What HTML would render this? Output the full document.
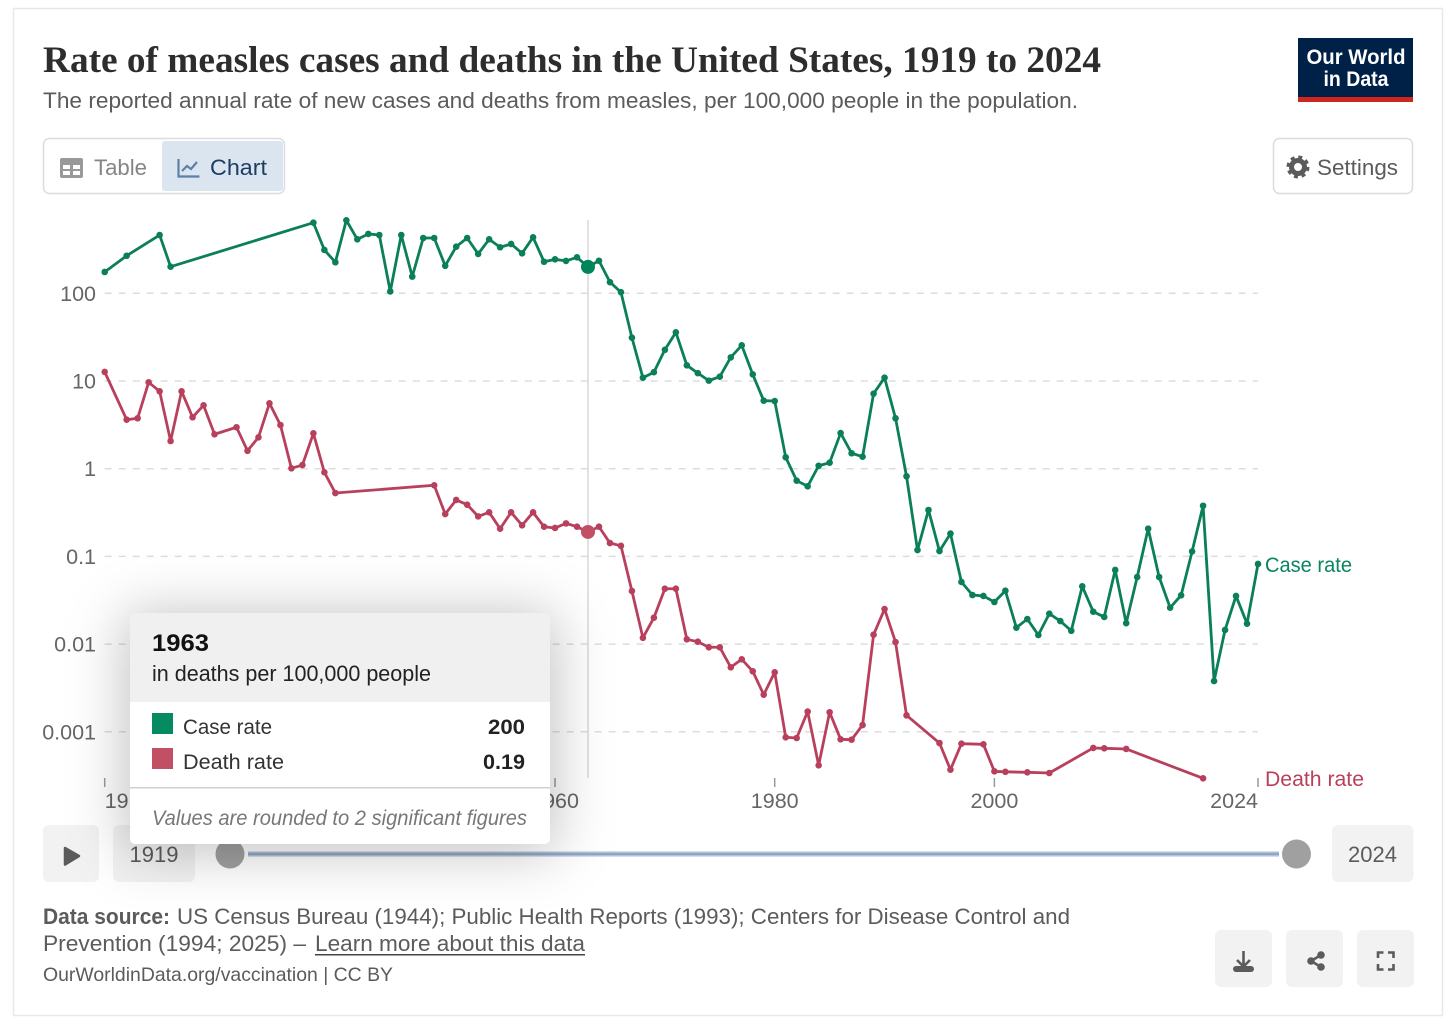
<!DOCTYPE html>
<html lang="en">
<head>
<meta charset="utf-8">
<title>Rate of measles cases and deaths in the United States, 1919 to 2024</title>
<style>
html,body{margin:0;padding:0;background:#fff;width:1456px;height:1034px;overflow:hidden}
svg{display:block;font-family:"Liberation Sans",sans-serif}
</style>
</head>
<body>
<svg id="chart" xmlns="http://www.w3.org/2000/svg" width="1456" height="1034" viewBox="0 0 1456 1034">
  <defs>
    <filter id="tipShadow" x="-40%" y="-60%" width="180%" height="220%">
      <feGaussianBlur stdDeviation="28"/>
    </filter>
  </defs>
  <rect x="13.5" y="8.5" width="1429" height="1007" fill="#fff" stroke="#e8e8e8" stroke-width="1.5"/>

  <text x="43" y="72" font-family="'Liberation Serif',serif" font-weight="700" font-size="36.5" fill="#2d2d2d" textLength="1058" lengthAdjust="spacingAndGlyphs">Rate of measles cases and deaths in the United States, 1919 to 2024</text>
  <text x="43" y="108" font-size="22" fill="#5b5b5b" textLength="1035" lengthAdjust="spacingAndGlyphs">The reported annual rate of new cases and deaths from measles, per 100,000 people in the population.</text>

  <g>
    <rect x="1298" y="38" width="115" height="64" fill="#002147"/>
    <rect x="1298" y="97" width="115" height="5" fill="#ce261e"/>
    <text x="1356" y="64" text-anchor="middle" font-size="21" font-weight="700" fill="#fff" textLength="99" lengthAdjust="spacingAndGlyphs">Our World</text>
    <text x="1356" y="86" text-anchor="middle" font-size="21" font-weight="700" fill="#fff" textLength="65" lengthAdjust="spacingAndGlyphs">in Data</text>
  </g>

  <g>
    <rect x="43.5" y="138.5" width="241" height="55" rx="6" fill="#fff" stroke="#dcdcdc" stroke-width="1.5"/>
    <g>
      <path fill="#999" fill-rule="evenodd" d="M62 158h19a2 2 0 0 1 2 2v16a2 2 0 0 1-2 2H62a2 2 0 0 1-2-2v-16a2 2 0 0 1 2-2zm1 7v4h7v-4zm10 0v4h7v-4zm-10 6v4h7v-4zm10 0v4h7v-4z"/>
      <text x="94" y="175" font-size="22.5" fill="#858585" textLength="53" lengthAdjust="spacingAndGlyphs">Table</text>
    </g>
    <g>
      <rect x="162" y="141" width="121" height="50" rx="3" fill="#dbe5f0"/>
      <path d="M178.500 159v17.500h21M182 171l5-5 4 3 6-7" fill="none" stroke="#5f7fa6" stroke-width="2.200"/>
      <text x="210" y="175" font-size="22.5" fill="#1d3d63" textLength="57" lengthAdjust="spacingAndGlyphs">Chart</text>
    </g>
  </g>

  <g>
    <rect x="1273.500" y="138.500" width="139" height="55" rx="6" fill="#fff" stroke="#dcdcdc" stroke-width="1.500"/>
    <circle cx="1298" cy="167" r="6.500" fill="none" stroke="#5b5b5b" stroke-width="5"/>
    <circle cx="1298" cy="167" r="10" fill="none" stroke="#5b5b5b" stroke-width="3" stroke-dasharray="4 3.850"/>
    <text x="1317" y="175" font-size="22.500" fill="#5b5b5b" textLength="81" lengthAdjust="spacingAndGlyphs">Settings</text>
  </g>

  <g id="plot"></g>

  <text x="1265" y="572" font-size="21.500" fill="#0a8560" textLength="87" lengthAdjust="spacingAndGlyphs">Case rate</text>
  <text x="1265" y="786" font-size="21.500" fill="#b8405a" textLength="99" lengthAdjust="spacingAndGlyphs">Death rate</text>

  <g>
    <g>
      <rect x="43" y="825" width="56" height="57" rx="6" fill="#f2f2f2"/>
      <path d="M65 848l14 8-14 8.500z" fill="#5b5b5b" stroke="#5b5b5b" stroke-width="2.500" stroke-linejoin="round"/>
    </g>
    <g>
      <rect x="113" y="825" width="82" height="57" rx="6" fill="#f2f2f2"/>
      <text x="154" y="862" text-anchor="middle" font-size="22" fill="#5b5b5b">1919</text>
    </g>
    <rect x="248" y="851" width="1031" height="6" fill="#d5deea"/>
    <rect x="248" y="852.500" width="1031" height="3" fill="#8fa6c4"/>
    <circle cx="230" cy="854" r="14.500" fill="#a0a0a0"/>
    <circle cx="1296.500" cy="854" r="14.500" fill="#a0a0a0"/>
    <g>
      <rect x="1332" y="825" width="81.500" height="57" rx="6" fill="#f2f2f2"/>
      <text x="1372.500" y="862" text-anchor="middle" font-size="22" fill="#5b5b5b">2024</text>
    </g>
  </g>

  <g>
    <text x="43" y="924" font-size="22" font-weight="700" fill="#5b5b5b" textLength="127" lengthAdjust="spacingAndGlyphs">Data source:</text>
    <text x="177" y="924" font-size="22" fill="#5b5b5b" textLength="893" lengthAdjust="spacingAndGlyphs">US Census Bureau (1944); Public Health Reports (1993); Centers for Disease Control and</text>
    <text x="43" y="951" font-size="22" fill="#5b5b5b" textLength="263" lengthAdjust="spacingAndGlyphs">Prevention (1994; 2025) –</text>
    <text x="315" y="951" font-size="22" fill="#5b5b5b" textLength="270" lengthAdjust="spacingAndGlyphs">Learn more about this data</text>
    <rect x="315" y="954" width="270" height="1.500" fill="#444"/>
    <text x="43" y="981" font-size="19.500" fill="#5b5b5b" textLength="350" lengthAdjust="spacingAndGlyphs">OurWorldinData.org/vaccination | CC BY</text>
  </g>

  <g>
    <rect x="1215" y="930" width="57" height="57" rx="6" fill="#f2f2f2"/>
    <path d="M1243.500 951v15M1237 960l6.500 6.500 6.500-6.500" fill="none" stroke="#5b5b5b" stroke-width="2.600"/>
    <rect x="1233" y="966" width="21" height="6" rx="3" fill="#5b5b5b"/>
  </g>
  <g>
    <rect x="1286" y="930" width="57" height="57" rx="6" fill="#f2f2f2"/>
    <path d="M1321 955l-10 6 10 6" fill="none" stroke="#5b5b5b" stroke-width="2.600"/>
    <circle cx="1321" cy="955" r="3.800" fill="#5b5b5b"/>
    <circle cx="1311" cy="961" r="3.800" fill="#5b5b5b"/>
    <circle cx="1321" cy="967" r="3.800" fill="#5b5b5b"/>
  </g>
  <g>
    <rect x="1357" y="930" width="57" height="57" rx="6" fill="#f2f2f2"/>
    <path d="M1378 958v-5.500h5.500M1388 952.500h5.500v5.500M1393.500 964v5.500H1388M1383.500 969.500H1378V964" fill="none" stroke="#5b5b5b" stroke-width="2.600"/>
  </g>

  <g>
    <rect x="125" y="613" width="430" height="240" fill="#000" fill-opacity="0.24" filter="url(#tipShadow)"/>
    <rect x="130" y="613" width="420" height="231" rx="5" fill="#fff"/>
    <path d="M130 702v-84a5 5 0 0 1 5-5h410a5 5 0 0 1 5 5v84z" fill="#f0f0f0"/>
    <text x="152" y="651" font-size="24" font-weight="700" fill="#111" textLength="57" lengthAdjust="spacingAndGlyphs">1963</text>
    <text x="152" y="681" font-size="22" fill="#222" textLength="279" lengthAdjust="spacingAndGlyphs">in deaths per 100,000 people</text>
    <rect x="152" y="713" width="21" height="21" fill="#068a62"/>
    <text x="183" y="734" font-size="21.500" fill="#333" textLength="89" lengthAdjust="spacingAndGlyphs">Case rate</text>
    <text x="525" y="734" text-anchor="end" font-size="21.500" font-weight="700" fill="#222" textLength="37" lengthAdjust="spacingAndGlyphs">200</text>
    <rect x="152" y="748" width="21" height="21" fill="#c15065"/>
    <text x="183" y="769" font-size="21.500" fill="#333" textLength="101" lengthAdjust="spacingAndGlyphs">Death rate</text>
    <text x="525" y="769" text-anchor="end" font-size="21.500" font-weight="700" fill="#222" textLength="42" lengthAdjust="spacingAndGlyphs">0.19</text>
    <rect x="130" y="787" width="420" height="1.500" fill="#d0d0d0"/>
    <text x="152" y="825" font-size="21" font-style="italic" fill="#777" textLength="375" lengthAdjust="spacingAndGlyphs">Values are rounded to 2 significant figures</text>
  </g>
</svg>

<script>
const caseYears = [1919,1921,1924,1925,1938,1939,1940,1941,1942,1943,1944,1945,1946,1947,1948,1949,1950,1951,1952,1953,1954,1955,1956,1957,1958,1959,1960,1961,1962,1963,1964,1965,1966,1967,1968,1969,1970,1971,1972,1973,1974,1975,1976,1977,1978,1979,1980,1981,1982,1983,1984,1985,1986,1987,1988,1989,1990,1991,1992,1993,1994,1995,1996,1997,1998,1999,2000,2001,2002,2003,2004,2005,2006,2007,2008,2009,2010,2011,2012,2013,2014,2015,2016,2017,2018,2019,2020,2021,2022,2023,2024];
const caseRate = [175,268,462,201,638,312,226,680,413,475,462,105,462,155,427,427,206,340,427,281,413,335,365,286,435,229,244,234,257,200,235,134,103,31.2,10.9,12.6,22.7,35.9,15.1,12.3,10.1,11.2,18.6,25.5,11.9,5.96,5.91,1.35,0.73,0.63,1.08,1.17,2.55,1.5,1.37,7.17,10.9,3.76,0.82,0.118,0.338,0.115,0.182,0.0511,0.0363,0.0354,0.0302,0.0406,0.0154,0.0193,0.0127,0.0222,0.0183,0.0142,0.0456,0.0234,0.0204,0.07,0.0173,0.0582,0.207,0.0582,0.026,0.036,0.114,0.378,0.00379,0.0145,0.0354,0.0171,0.082];
const deathYears = [1919,1921,1922,1923,1924,1925,1926,1927,1928,1929,1931,1932,1933,1934,1935,1936,1937,1938,1939,1940,1949,1950,1951,1952,1953,1954,1955,1956,1957,1958,1959,1960,1961,1962,1963,1964,1965,1966,1967,1968,1969,1970,1971,1972,1973,1974,1975,1976,1977,1978,1979,1980,1981,1982,1983,1984,1985,1986,1987,1988,1989,1990,1991,1992,1995,1996,1997,1999,2000,2001,2003,2005,2009,2010,2012,2019];
const deathRate = [12.7,3.62,3.76,9.66,7.63,2.07,7.63,3.86,5.28,2.47,2.97,1.6,2.28,5.57,3.15,1.01,1.1,2.53,0.91,0.528,0.647,0.304,0.44,0.389,0.286,0.318,0.207,0.318,0.226,0.318,0.218,0.211,0.238,0.218,0.19,0.218,0.142,0.132,0.0403,0.0118,0.02,0.0428,0.0428,0.01134,0.01065,0.0092,0.0092,0.00544,0.00671,0.0049,0.00265,0.00477,0.000866,0.00085,0.0017,0.000415,0.00167,0.000821,0.000813,0.001195,0.0128,0.0251,0.01056,0.00154,0.000745,0.00037,0.000732,0.00072,0.000354,0.00035,0.000345,0.000339,0.000654,0.000648,0.000637,0.000295];
const yTickValues = [100,10,1,0.1,0.01,0.001];
const yTickLabels = ["100","10","1","0.1","0.01","0.001"];
const xTickYears = [1919,1960,1980,2000,2024];
const xTickLabels = ["1919","1960","1980","2000","2024"];
const highlightYear = 1963;

const NS = 'http://www.w3.org/2000/svg';
const plot = document.getElementById('plot');
const LEFT = 104.7, RIGHT = 1258, YEAR0 = 1919, YEAR1 = 2024;
const Y100 = 293.3, DECADE = 87.7;
function xScale(year){ return LEFT + (year - YEAR0) * (RIGHT - LEFT) / (YEAR1 - YEAR0); }
function yScale(v){ return Y100 + (2 - Math.log10(v)) * DECADE; }
function make(tag, attrs, parent){
  const el = document.createElementNS(NS, tag);
  for (const k in attrs) el.setAttribute(k, attrs[k]);
  (parent || plot).appendChild(el);
  return el;
}

yTickValues.forEach(function(v, i){
  const y = yScale(v);
  const line = make('line', {x1: LEFT, x2: RIGHT, y1: y, y2: y, stroke: '#dddddd', 'stroke-width': 1.5, 'stroke-dasharray': '7 7'});
  
  
  const label = make('text', {x: 96, y: y + 7.5, 'text-anchor': 'end', 'font-size': 21.5, fill: '#666666'});
  
  
  label.textContent = yTickLabels[i];
});

xTickYears.forEach(function(year, i){
  const x = xScale(year);
  const tick = make('line', {x1: x, x2: x, y1: 778, y2: 787, stroke: '#999999', 'stroke-width': 1.5});
  
  
  const anchor = i === 0 ? 'start' : (i === xTickYears.length - 1 ? 'end' : 'middle');
  const label = make('text', {x: x, y: 808, 'text-anchor': anchor, 'font-size': 21.5, fill: '#666666'});
  
  
  label.textContent = xTickLabels[i];
});

const hx = xScale(highlightYear);
const cursor = make('line', {x1: hx, x2: hx, y1: 220, y2: 778, stroke: '#d8d8d8', 'stroke-width': 1.5});



function drawSeries(years, values, lineColor, bigColor, seriesName){
  const pts = years.map(function(y, i){ return xScale(y).toFixed(2) + ',' + yScale(values[i]).toFixed(2); }).join(' ');
  const line = make('polyline', {points: pts, fill: 'none', stroke: lineColor, 'stroke-width': 2.8, 'stroke-linejoin': 'round'});
  
  
  years.forEach(function(y, i){
    const isHighlight = y === highlightYear;
    const dot = make('circle', {cx: xScale(y), cy: yScale(values[i]), r: isHighlight ? 7 : 3.3, fill: isHighlight ? bigColor : lineColor});
    
    
  });
}
drawSeries(caseYears, caseRate, '#0a7f5a', '#00845a', 'case-rate');
drawSeries(deathYears, deathRate, '#b9405d', '#c15065', 'death-rate');
</script>
</body>
</html>
